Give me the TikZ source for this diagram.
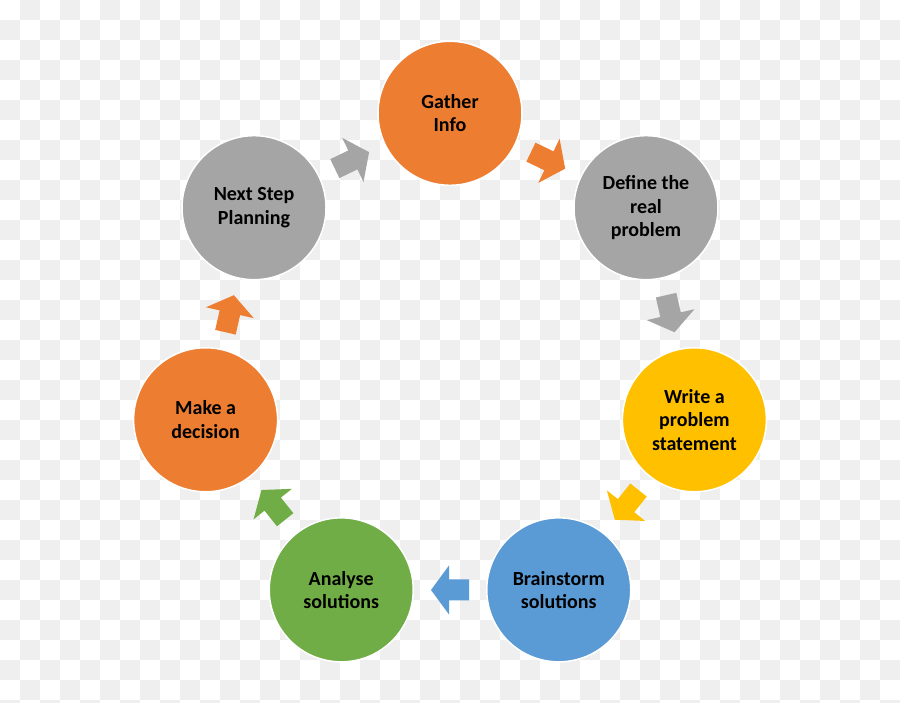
\documentclass[tikz,border=0pt]{standalone}
\usepackage{fontspec}
\setmainfont{Carlito}
\definecolor{corange}{HTML}{ED7D31}
\definecolor{cgray}{HTML}{A5A5A5}
\definecolor{cyellow}{HTML}{FFC000}
\definecolor{cblue}{HTML}{5B9BD5}
\definecolor{cgreen}{HTML}{70AD47}
\definecolor{chk}{HTML}{EFEFEF}
\begin{document}
\begin{tikzpicture}[x=1pt,y=1pt,
  stage/.style={circle, minimum size=144pt, inner sep=0pt, draw=white, line width=1.5pt,
    align=center, text=black, font=\bfseries\fontsize{20}{23.5}\selectfont}]
\useasboundingbox (0,0) rectangle (900,703);
\fill[white] (0,0) rectangle (900,703);
\begin{scope}
\clip (0,0) rectangle (900,703);
\foreach \i in {0,...,44}{
  \foreach \j in {0,...,35}{
    \pgfmathtruncatemacro\odd{mod(\i+\j,2)}
    \ifnum\odd=1
      \fill[chk] (20*\i,703-20*\j) rectangle ++(20,-20);
    \fi
  }
}
\end{scope}
\coordinate (c) at (450,339);
\node[stage, fill=corange] (gather) at ([shift={(90:250.7)}]c) {Gather\\Info};
\node[stage, fill=cgray] (define) at ([shift={(38.571:250.7)}]c) {Define the\\real\\problem};
\node[stage, fill=cyellow] (write) at ([shift={(-12.857:250.7)}]c) {Write a\\problem\\statement};
\node[stage, fill=cblue] (brain) at ([shift={(-64.286:250.7)}]c) {Brainstorm\\solutions};
\node[stage, fill=cgreen] (analyse) at ([shift={(-115.714:250.7)}]c) {Analyse\\solutions};
\node[stage, fill=corange] (decide) at ([shift={(-167.143:250.7)}]c) {Make a\\decision};
\node[stage, fill=cgray] (next) at ([shift={(141.429:250.7)}]c) {Next Step\\Planning};
\begin{scope}[shift={(c)}]
\foreach \k/\col in {0/corange,1/cgray,2/cyellow,3/cblue,4/cgreen,5/corange,6/cgray}{
  \pgfmathsetmacro\ang{90-51.4286*(\k+0.5)}
  \fill[\col, shift={(\ang:226)}, rotate=\ang-90]
    (-19,-10.5) -- (1,-10.5) -- (1,-24.5) -- (19,0) -- (1,24.5) -- (1,10.5) -- (-19,10.5) -- cycle;
}
\end{scope}
\end{tikzpicture}
\end{document}
